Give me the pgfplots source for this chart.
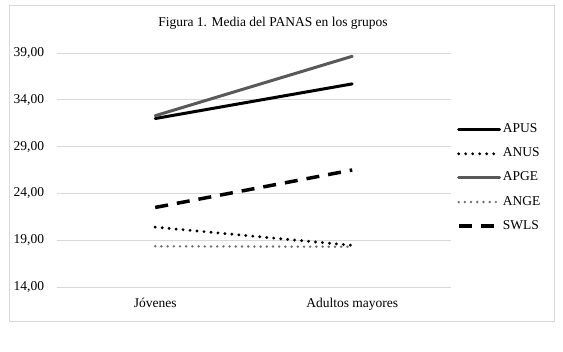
\documentclass[border=0pt]{standalone}
\usepackage{pgfplots}
\pgfplotsset{compat=1.18}
\usepackage{fontspec}
\setmainfont{Liberation Serif}
\definecolor{gridgray}{HTML}{D9D9D9}
\definecolor{apge}{HTML}{595959}
\definecolor{ange}{HTML}{6F6F6F}
\begin{document}
\fontsize{13.5bp}{16bp}\selectfont
\begin{tikzpicture}[x=1bp,y=1bp]
\useasboundingbox (0,0) rectangle (563,-351);
\draw[gridgray, line width=1bp] (9.5,-5.5) rectangle (554,-321);
\node[anchor=base] at (273,-26) {Figura 1. Media del PANAS en los grupos};
\begin{axis}[
  at={(56.7bp,-287bp)}, anchor=south west,
  scale only axis, width=394bp, height=234bp,
  xmin=-0.5, xmax=1.5, ymin=14, ymax=39,
  xtick={0,1}, xticklabels={Jóvenes, Adultos mayores},
  ytick={14,19,24,29,34,39},
  ymajorgrids, grid style={gridgray, line width=1bp},
  axis line style={draw=none}, tick style={draw=none},
  /pgf/number format/.cd, fixed, fixed zerofill, precision=2, use comma, assume math mode=true,
  /pgfplots/.cd,
  yticklabel style={inner sep=0pt, xshift=-12.4bp},
  xticklabel style={inner sep=0pt, yshift=-11bp},
  legend style={draw=none, fill=none, inner sep=0pt, at={(1,1)}, anchor=north west, xshift=6bp, yshift=-70bp,
    row sep=11.1bp, nodes={inner sep=0pt, text height=9.5bp, text depth=3.5bp}, legend cell align=left, column sep=1.5bp},
  legend image code/.code={\draw[#1] (0bp,0bp) -- (41bp,0bp);},
]
\addplot[black, line width=3bp, line cap=round] coordinates {(0,32.0) (1,35.7)};
\addlegendentry{APUS}
\addplot[black, line width=3.2bp, line cap=round, dash pattern=on 0bp off 7bp] coordinates {(0,20.4) (1,18.45)};
\addlegendentry{ANUS}
\addplot[apge, line width=3bp, line cap=round] coordinates {(0,32.3) (1,38.65)};
\addlegendentry{APGE}
\addplot[ange, line width=2.7bp, line cap=round, dash pattern=on 0bp off 6.2bp] coordinates {(0,18.35) (1,18.3)};
\addlegendentry{ANGE}
\addplot[black, line width=3.5bp, dash pattern=on 13bp off 9bp] coordinates {(0,22.5) (1,26.5)};
\addlegendentry{SWLS}
\end{axis}
\end{tikzpicture}
\end{document}
